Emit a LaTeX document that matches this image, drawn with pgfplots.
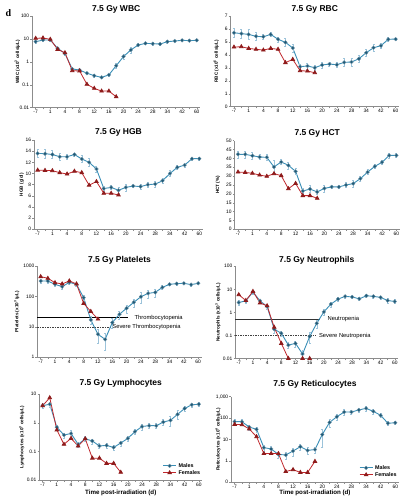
\documentclass[border=0pt]{standalone}
\usepackage{fontspec}
\setmainfont{Liberation Sans}
\newfontfamily\seriffont{Liberation Serif}
\usepackage{pgfplots}
\pgfplotsset{compat=1.18}
\definecolor{mline}{HTML}{3A8FB7}
\definecolor{mmark}{HTML}{1F5A78}
\definecolor{fline}{HTML}{C0282D}
\definecolor{fmark}{HTML}{8E1B1B}
\definecolor{errc}{HTML}{9CC3DA}
\definecolor{axgray}{HTML}{8C8C8C}
\tikzset{thr/.style={anchor=west, font=\fontsize{5.8}{6}\selectfont, inner sep=0pt}}
\pgfplotsset{
 panel/.style={
   scale only axis, anchor=south west,
   axis x line*=bottom, axis y line*=left,
   axis line style={draw=axgray, line width=0.5pt},
   xmin=-0.5, xmax=22.5,
   xtick={0,...,22},
   xticklabels={-7,,1,,4,,8,,12,,16,,20,,24,,28,,34,,42,,60},
   tick align=outside, major tick length=1.6pt,
   tick style={draw=axgray, line width=0.4pt},
   minor y tick style={draw=none},
   ticklabel style={font=\fontsize{4.9}{5}\selectfont, text=black},
   xticklabel style={inner sep=1pt},
   yticklabel style={inner sep=1pt},
   /pgf/number format/assume math mode=true,
   title style={font=\bfseries\fontsize{8.5}{9}\selectfont, at={(0.5,1)}, anchor=base, inner sep=0pt},
   ylabel style={font=\bfseries\fontsize{4.6}{5}\selectfont, anchor=center},
   xlabel style={font=\bfseries\fontsize{6.2}{7}\selectfont, at={(axis description cs:0.5,0)}, anchor=center},
 },
 male/.style={mline, line width=0.9pt, mark=*, mark size=1.9pt, mark options={fill=mmark, draw=mmark!60!white, line width=0.3pt, solid}},
 female/.style={fline, line width=0.8pt, mark=triangle*, mark size=2pt, mark options={fill=fmark, draw=fmark, solid}},
 errabs/.style={error bars/.cd, y dir=both, y explicit, error bar style={errc, line width=0.45pt}, error mark options={errc, rotate=90, mark size=1pt, line width=0.45pt}},
 errrel/.style={error bars/.cd, y dir=both, y explicit relative, error bar style={errc, line width=0.45pt}, error mark options={errc, rotate=90, mark size=1pt, line width=0.45pt}},
 lgnd/.style={legend style={at={(1,0.03)}, anchor=south east, draw=none, fill=none, font=\bfseries\fontsize{5.4}{6}\selectfont, row sep=-2.5pt, inner sep=0pt, cells={anchor=west}},
   legend image code/.code={\draw[mark repeat=2,mark phase=2] plot coordinates {(0pt,0pt) (6.5pt,0pt) (13pt,0pt)};}},
}
\begin{document}
\begin{tikzpicture}
\useasboundingbox (0,0) rectangle (406pt,500pt);
\node[font=\seriffont\bfseries\fontsize{10}{11}\selectfont] at (8.3pt,487pt) {d};

% WBC
\begin{axis}[panel, at={(32pt,392.3pt)}, width=168.4pt, height=91.7pt,
  ymode=log, ymin=0.01, ymax=100, ytick={0.01,0.1,1,10,100}, yticklabels={0.01,0.1,1,10,100},
  title={7.5 Gy WBC}, title style={yshift=-1.7pt},
  ylabel={WBC (x10\textsuperscript{3} cells/µL)}, ylabel style={at={(axis description cs:-0.087,0.5)}}]
\addplot[male, errrel] coordinates {(0,7.6)+-(0,0.15) (1,8.9)+-(0,0.15) (2,9.0)+-(0,0.12) (3,3.9)+-(0,0.15) (4,2.3)+-(0,0.15) (5,0.49)+-(0,0.15) (6,0.44)+-(0,0.12) (7,0.32)+-(0,0.12) (8,0.25)+-(0,0.12) (9,0.21)+-(0,0.12) (10,0.27)+-(0,0.15) (11,0.68)+-(0,0.25) (12,1.7)+-(0,0.25) (13,3.3)+-(0,0.3) (14,5.4)+-(0,0.15) (15,6.4)+-(0,0.12) (16,6.2)+-(0,0.12) (17,6.0)+-(0,0.12) (18,7.6)+-(0,0.12) (19,8.1)+-(0,0.1) (20,8.7)+-(0,0.1) (21,8.4)+-(0,0.1) (22,8.7)+-(0,0.1)};
\addplot[female] coordinates {(0,10.6) (1,11) (2,9.6) (3,3.5) (4,2.5) (5,0.41) (6,0.40) (7,0.105) (8,0.07) (9,0.053) (10,0.053) (11,0.03)};
\end{axis}

% RBC
\begin{axis}[panel, at={(230.3pt,393.3pt)}, width=169pt, height=90.7pt,
  ymin=0, ymax=7, ytick={0,1,...,7},
  title={7.5 Gy RBC}, title style={yshift=-1.7pt},
  ylabel={RBC (x10\textsuperscript{6} cells/µL)}, ylabel style={at={(axis description cs:-0.083,0.5)}}]
\addplot[male, errabs] coordinates {(0,5.71)+-(0,0.35) (1,5.64)+-(0,0.35) (2,5.58)+-(0,0.4) (3,5.43)+-(0,0.3) (4,5.4)+-(0,0.2) (5,5.58)+-(0,0.15) (6,5.2)+-(0,0.2) (7,4.97)+-(0,0.3) (8,4.53)+-(0,0.3) (9,3.09)+-(0,0.2) (10,3.14)+-(0,0.25) (11,3.01)+-(0,0.2) (12,3.22)+-(0,0.25) (13,3.29)+-(0,0.15) (14,3.24)+-(0,0.2) (15,3.42)+-(0,0.3) (16,3.45)+-(0,0.3) (17,3.7)+-(0,0.25) (18,4.17)+-(0,0.3) (19,4.55)+-(0,0.25) (20,4.71)+-(0,0.2) (21,5.2)+-(0,0.15) (22,5.22)+-(0,0.1)};
\addplot[female] coordinates {(0,4.6) (1,4.63) (2,4.5) (3,4.43) (4,4.37) (5,4.5) (6,4.43) (7,3.4) (8,3.65) (9,2.78) (10,2.75) (11,2.62)};
\end{axis}

% HGB
\begin{axis}[panel, at={(34pt,270.7pt)}, width=169pt, height=89.3pt,
  ymin=0, ymax=16, ytick={0,2,...,16},
  title={7.5 Gy HGB}, title style={yshift=-1pt},
  ylabel={HGB (g/dl)}, ylabel style={at={(axis description cs:-0.073,0.5)}}]
\addplot[male, errabs] coordinates {(0,13.6)+-(0,0.7) (1,13.55)+-(0,0.8) (2,13.4)+-(0,0.7) (3,13.0)+-(0,0.6) (4,13.0)+-(0,0.4) (5,13.4)+-(0,0.3) (6,12.6)+-(0,0.6) (7,12.0)+-(0,0.7) (8,10.8)+-(0,0.5) (9,7.3)+-(0,0.5) (10,7.5)+-(0,0.4) (11,7.0)+-(0,0.5) (12,7.5)+-(0,0.6) (13,7.75)+-(0,0.3) (14,7.65)+-(0,0.5) (15,8.0)+-(0,0.5) (16,8.1)+-(0,0.6) (17,8.7)+-(0,0.4) (18,10.0)+-(0,0.5) (19,11.1)+-(0,0.4) (20,11.5)+-(0,0.3) (21,12.65)+-(0,0.3) (22,12.65)+-(0,0.2)};
\addplot[female] coordinates {(0,10.6) (1,10.55) (2,10.5) (3,10.15) (4,9.9) (5,10.4) (6,10.15) (7,7.9) (8,8.55) (9,6.45) (10,6.45) (11,6.15)};
\end{axis}

% HCT
\begin{axis}[panel, at={(234.4pt,270.7pt)}, width=165.6pt, height=88.6pt,
  ymin=0, ymax=50, ytick={0,5,...,50},
  title={7.5 Gy HCT}, title style={yshift=-1pt},
  ylabel={HCT (\%)}, ylabel style={at={(axis description cs:-0.099,0.5)}}]
\addplot[male, errabs] coordinates {(0,42.3)+-(0,2) (1,42.3)+-(0,2) (2,41.5)+-(0,2) (3,40.8)+-(0,1.5) (4,40.6)+-(0,1.5) (5,35.2)+-(0,4) (6,38.0)+-(0,1.5) (7,36.1)+-(0,2) (8,32.7)+-(0,1.5) (9,21.6)+-(0,1.5) (10,22.7)+-(0,2) (11,21.1)+-(0,1.5) (12,23.1)+-(0,2) (13,23.9)+-(0,1) (14,23.9)+-(0,1) (15,25.0)+-(0,1.5) (16,25.8)+-(0,2) (17,28.6)+-(0,1.5) (18,32.3)+-(0,1.5) (19,35.5)+-(0,1) (20,37.8)+-(0,1) (21,41.7)+-(0,1.5) (22,41.7)+-(0,1)};
\addplot[female] coordinates {(0,32.3) (1,32.1) (2,31.6) (3,30.6) (4,29.9) (5,31.4) (6,30.3) (7,22.9) (8,25.9) (9,19.0) (10,19.0) (11,17.5)};
\end{axis}

% Platelets
\begin{axis}[panel, at={(37.1pt,142.7pt)}, width=164.7pt, height=91.3pt,
  ymode=log, ymin=1, ymax=1000, ytick={1,10,100,1000}, yticklabels={1,10,100,1000},
  title={7.5 Gy Platelets}, title style={yshift=-2.7pt},
  ylabel={Platelets (x10\textsuperscript{3} /µL)}, ylabel style={at={(axis description cs:-0.124,0.5)}}]
\addplot[black, line width=0.9pt, forget plot] coordinates {(-0.5,20) (12.2,20)};
\addplot[black!75, line width=0.7pt, dash pattern=on 1.5pt off 1pt, forget plot] coordinates {(-0.5,10) (9.7,10)};
\node[thr] at (axis cs:13.1,20) {Thrombocytopenia};
\node[thr] at (axis cs:10.0,10) {Severe Thrombocytopenia};
\addplot[male, errrel] coordinates {(0,321)+-(0,0.15) (1,320)+-(0,0.15) (2,250)+-(0,0.15) (3,209)+-(0,0.2) (4,290)+-(0,0.15) (5,250)+-(0,0.12) (6,91)+-(0,0.2) (7,17)+-(0,0.3) (8,5.7)+-(0,0.5) (9,3.9)+-(0,0.55) (10,13.8)+-(0,0.35) (11,26)+-(0,0.3) (12,41)+-(0,0.3) (13,64)+-(0,0.3) (14,98)+-(0,0.4) (15,126)+-(0,0.3) (16,136)+-(0,0.3) (17,199)+-(0,0.15) (18,250)+-(0,0.1) (19,263)+-(0,0.1) (20,270)+-(0,0.1) (21,244)+-(0,0.1) (22,270)+-(0,0.1)};
\addplot[female] coordinates {(0,447) (1,394) (2,283) (3,257) (4,323) (5,257) (6,59) (7,32) (8,18)};
\end{axis}

% Neutrophils
\begin{axis}[panel, at={(235.2pt,141.3pt)}, width=163.1pt, height=92.4pt,
  ymode=log, ymin=0.01, ymax=100, ytick={0.01,0.1,1,10,100}, yticklabels={0.01,0.1,1,10,100},
  title={7.5 Gy Neutrophils}, title style={yshift=-2.6pt},
  ylabel={Neutrophils (x10\textsuperscript{3} cells/µL)}, ylabel style={at={(axis description cs:-0.105,0.5)}}]
\addplot[black!80, line width=0.9pt, forget plot] coordinates {(-0.5,0.5) (11.4,0.5)};
\addplot[black!75, line width=0.7pt, dash pattern=on 1.5pt off 1pt, forget plot] coordinates {(-0.5,0.1) (10.9,0.1)};
\node[thr] at (axis cs:12.5,0.5) {Neutropenia};
\node[thr] at (axis cs:11.3,0.1) {Severe Neutropenia};
\addplot[male, errrel] coordinates {(0,2.7)+-(0,0.2) (1,3.2)+-(0,0.2) (2,7.7)+-(0,0.2) (3,3.2)+-(0,0.2) (4,1.8)+-(0,0.2) (5,0.19)+-(0,0.3) (6,0.126)+-(0,0.25) (7,0.039)+-(0,0.3) (8,0.046)+-(0,0.3) (9,0.016)+-(0,0.5) (10,0.091)+-(0,0.5) (11,0.34)+-(0,0.4) (12,1.07)+-(0,0.3) (13,2.3)+-(0,0.25) (14,3.8)+-(0,0.2) (15,5.0)+-(0,0.15) (16,4.7)+-(0,0.15) (17,3.9)+-(0,0.15) (18,5.3)+-(0,0.15) (19,5.0)+-(0,0.15) (20,4.5)+-(0,0.15) (21,3.3)+-(0,0.2) (22,3.0)+-(0,0.2)};
\addplot[female] coordinates {(0,5.9) (1,3.3) (2,8.2) (3,2.6) (4,1.95) (5,0.23) (6,0.046) (7,0.0102)};
\addplot[female, only marks, forget plot] coordinates {(9,0.0102) (10,0.0102)};
\end{axis}

% Lymphocytes
\begin{axis}[panel, lgnd, at={(39.1pt,19.7pt)}, width=163.3pt, height=86pt,
  ymode=log, ymin=0.01, ymax=10, ytick={0.01,0.1,1,10}, yticklabels={0.01,0.1,1,10},
  title={7.5 Gy Lymphocytes}, title style={yshift=2.6pt},
  ylabel={Lymphocytes (x10\textsuperscript{3} cells/µL)}, ylabel style={at={(axis description cs:-0.107,0.5)}},
  xlabel={Time post-irradiation (d)}, xlabel style={yshift=-12.7pt}]
\addplot[male, errrel] coordinates {(0,4.0)+-(0,0.2) (1,4.5)+-(0,0.2) (2,0.71)+-(0,0.2) (3,0.38)+-(0,0.2) (4,0.43)+-(0,0.3) (5,0.18)+-(0,0.2) (6,0.28)+-(0,0.2) (7,0.235)+-(0,0.2) (8,0.158)+-(0,0.2) (9,0.165)+-(0,0.2) (10,0.14)+-(0,0.2) (11,0.2)+-(0,0.2) (12,0.29)+-(0,0.2) (13,0.5)+-(0,0.2) (14,0.75)+-(0,0.25) (15,0.81)+-(0,0.2) (16,0.8)+-(0,0.2) (17,1.08)+-(0,0.25) (18,1.24)+-(0,0.4) (19,2.0)+-(0,0.35) (20,3.2)+-(0,0.2) (21,4.3)+-(0,0.15) (22,4.5)+-(0,0.15)};
\addlegendentry{Males}
\addplot[female] coordinates {(0,4.0) (1,7.6) (2,0.57) (3,0.18) (4,0.29) (5,0.157) (6,0.28) (7,0.059) (8,0.059) (9,0.039) (10,0.039) (11,0.019)};
\addlegendentry{Females}
\end{axis}

% Reticulocytes
\begin{axis}[panel, lgnd, at={(231pt,17.7pt)}, width=167.9pt, height=85.6pt,
  ymode=log, ymin=0.1, ymax=1000, ytick={0.1,1,10,100,1000}, yticklabels={0,1,10,100,{1,000}},
  title={7.5 Gy Reticulocytes}, title style={yshift=4pt},
  ylabel={Reticulocytes (x10\textsuperscript{4} cells/µL)}, ylabel style={at={(axis description cs:-0.077,0.5)}},
  xlabel={Time post-irradiation (d)}, xlabel style={yshift=-11pt}]
\addplot[male, errrel] coordinates {(0,68)+-(0,0.25) (1,68)+-(0,0.25) (2,38)+-(0,0.25) (3,30)+-(0,0.25) (4,4.2)+-(0,0.3) (5,3.6)+-(0,0.3) (6,2.0)+-(0,0.3) (7,1.9)+-(0,0.35) (8,2.9)+-(0,0.4) (9,4.6)+-(0,0.35) (10,3.1)+-(0,0.35) (11,3.4)+-(0,0.35) (12,17)+-(0,0.75) (13,63)+-(0,0.4) (14,116)+-(0,0.3) (15,192)+-(0,0.3) (16,192)+-(0,0.2) (17,240)+-(0,0.2) (18,285)+-(0,0.3) (19,207)+-(0,0.25) (20,135)+-(0,0.2) (21,57)+-(0,0.2) (22,61)+-(0,0.15)};
\addlegendentry{Males}
\addplot[female] coordinates {(0,51) (1,49) (2,31) (3,13.5) (4,2.2) (5,2.2) (6,2.2) (7,0.32) (8,0.39) (9,0.29) (10,0.29) (11,0.95)};
\addlegendentry{Females}
\end{axis}
\end{tikzpicture}
\end{document}
